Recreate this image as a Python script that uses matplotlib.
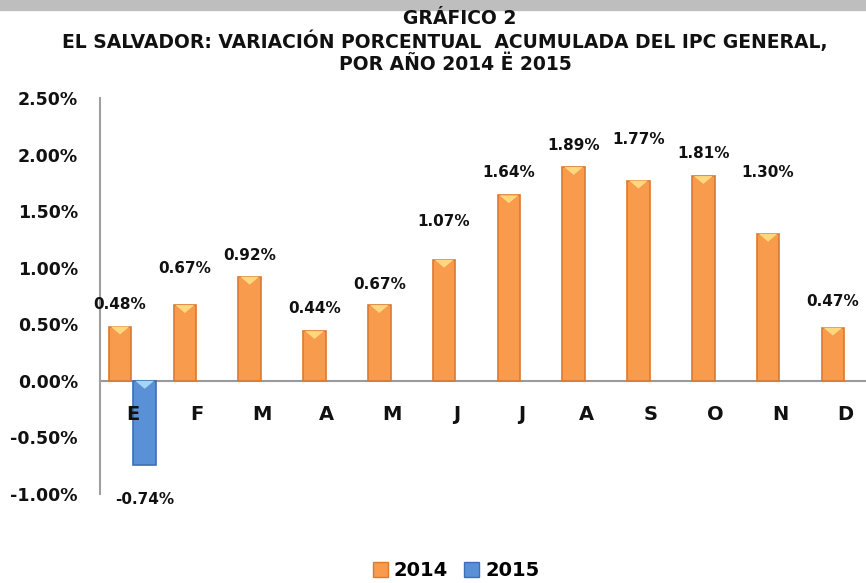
import matplotlib
matplotlib.use("Agg")
import matplotlib.pyplot as plt
from matplotlib.patches import Polygon, Rectangle, Patch

# --- data
months = ["E", "F", "M", "A", "M", "J", "J", "A", "S", "O", "N", "D"]
ipc_2014 = [0.48, 0.67, 0.92, 0.44, 0.67, 1.07, 1.64, 1.89, 1.77, 1.81, 1.30, 0.47]
ipc_2015 = [-0.74]
yticks = [-1.0, -0.5, 0.0, 0.5, 1.0, 1.5, 2.0, 2.5]

# label offsets above bar top (pixels), as placed in the original
dy_2014 = [22, 37, 21, 23, 21, 38, 23, 22, 41, 23, 61, 26]

ORANGE, ORANGE_EDGE, ORANGE_HI = "#F89B4C", "#DC7A30", "#FFD77E"
BLUE, BLUE_EDGE, BLUE_HI = "#5A90D6", "#3D6FB8", "#A4D4F6"
FONT = "DejaVu Sans"
INK = "#111111"

fig = plt.figure(figsize=(8.66, 5.83), dpi=100)
fig.patches.append(Rectangle((0, 1 - 10 / 583), 1, 10 / 583, transform=fig.transFigure,
                             color="#bebebe", zorder=0))

ax = fig.add_axes([100 / 866, 1 - 494 / 583, 777.6 / 866, 396 / 583])
ax.set_xlim(-0.5, 11.5)
ax.set_ylim(-1.0, 2.5)

w = 0.35
off = 0.19


def draw_bars(xs, vals, face, edge, hi):
    bars = ax.bar(xs, vals, width=w, color=face, edgecolor=edge, linewidth=1.2, zorder=3)
    for b in bars:
        x0, y0 = b.get_x(), b.get_y()
        bw, bh = b.get_width(), b.get_height()
        top = max(y0, y0 + bh)
        tri = Polygon([(x0 + 0.03, top), (x0 + bw - 0.03, top), (x0 + bw / 2, top - 0.07)],
                      closed=True, color=hi, zorder=4, lw=0)
        ax.add_patch(tri)
    return bars


x14 = [i - off for i in range(len(ipc_2014))]
x15 = [i + off for i in range(len(ipc_2015))]
draw_bars(x14, ipc_2014, ORANGE, ORANGE_EDGE, ORANGE_HI)
draw_bars(x15, ipc_2015, BLUE, BLUE_EDGE, BLUE_HI)

# value labels
for x, v, dy in zip(x14, ipc_2014, dy_2014):
    ax.annotate(f"{v:.2f}%", (x, v), xytext=(0, dy * 0.72), textcoords="offset points",
                ha="center", va="center", fontsize=11, fontweight="bold",
                family=FONT, color=INK, zorder=5)
for x, v in zip(x15, ipc_2015):
    ax.annotate(f"{v:.2f}%", (x, v), xytext=(0, -35 * 0.72), textcoords="offset points",
                ha="center", va="center", fontsize=11, fontweight="bold",
                family=FONT, color=INK, zorder=5)

# category labels just below the zero line
for i, m in enumerate(months):
    ax.text(i, -0.30, m, ha="center", va="center", fontsize=14, fontweight="bold",
            family=FONT, color=INK, zorder=5)

ax.axhline(0, color="#9a9a9a", lw=1.5, zorder=2)
ax.set_xticks([])
ax.set_yticks(yticks)
ax.set_yticklabels([f"{t:.2f}%" for t in yticks], fontsize=12.5, fontweight="bold",
                   family=FONT, color=INK)
ax.tick_params(axis="y", length=0, pad=16)
for s in ("top", "right", "bottom"):
    ax.spines[s].set_visible(False)
ax.spines["left"].set_color("#a0a0a0")
ax.spines["left"].set_linewidth(1.5)

# title
tfont = dict(fontsize=13.5, fontweight="bold", family=FONT,
             color=INK, ha="center", va="center")
fig.text(460 / 866, 1 - 18 / 583, "GRÁFICO 2", **tfont)
fig.text(445 / 866, 1 - 41 / 583,
         "EL SALVADOR: VARIACIÓN PORCENTUAL  ACUMULADA DEL IPC GENERAL,", **tfont)
fig.text(455 / 866, 1 - 64 / 583, "POR AÑO 2014 Ë 2015", **tfont)

# legend
handles = [Patch(facecolor=ORANGE, edgecolor=ORANGE_EDGE, label="2014"),
           Patch(facecolor=BLUE, edgecolor=BLUE_EDGE, label="2015")]
fig.legend(handles=handles, loc="center", bbox_to_anchor=(456 / 866, 1 - 571 / 583),
           ncol=2, frameon=False, handlelength=0.8, handleheight=0.8, handletextpad=0.3,
           columnspacing=0.8, prop={"family": FONT, "weight": "bold", "size": 14})

fig.savefig("out.png", dpi=100)
